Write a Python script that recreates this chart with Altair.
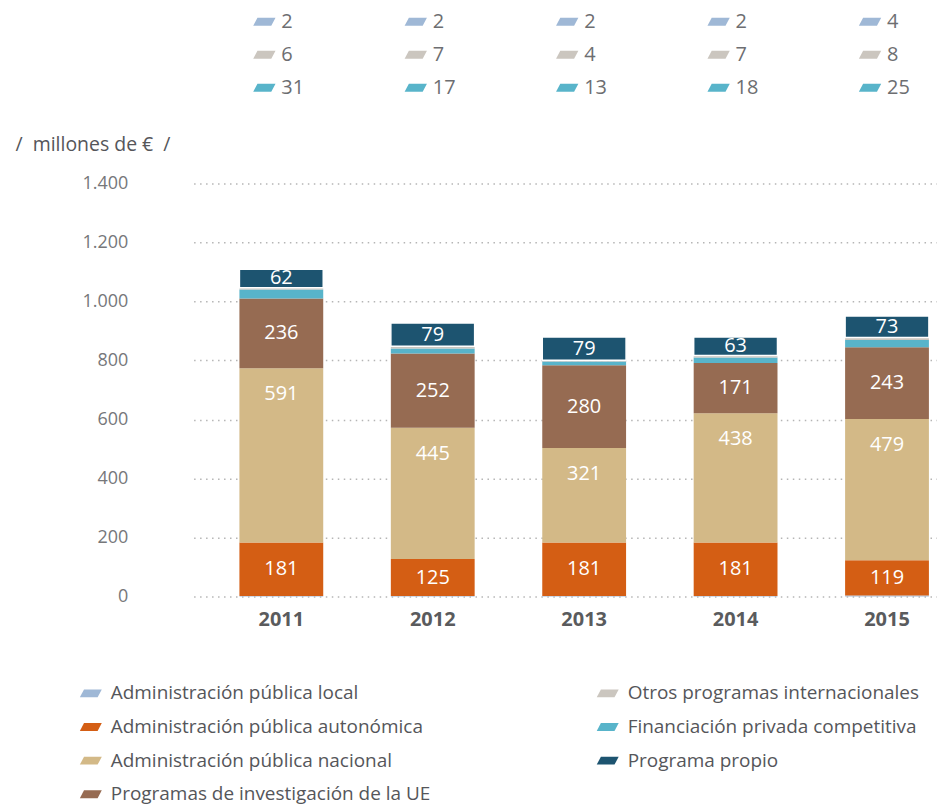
import altair as alt
import pandas as pd

years = ["2011", "2012", "2013", "2014", "2015"]
series = [
    "Administración pública local",
    "Administración pública autonómica",
    "Administración pública nacional",
    "Programas de investigación de la UE",
    "Financiación privada competitiva",
    "Otros programas internacionales",
    "Programa propio",
]
local = [2, 2, 2, 2, 4]
autonomica = [181, 125, 181, 181, 119]
nacional = [591, 445, 321, 438, 479]
ue = [236, 252, 280, 171, 243]
privada = [31, 17, 13, 18, 25]
otros = [6, 7, 4, 7, 8]
propio = [62, 79, 79, 63, 73]
colors = ["#9fb8d6", "#d45e14", "#d3b987", "#966b52", "#58b4ca", "#cbc6bf", "#1d5470"]
y_ticks = [0, 200, 400, 600, 800, 1000, 1200, 1400]

values = [local, autonomica, nacional, ue, privada, otros, propio]
rows = []
for i, yr in enumerate(years):
    base = 0
    for k, name in enumerate(series):
        v = values[k][i]
        rows.append(dict(year=yr, serie=name, value=v, order=k,
                         y0=base, y1=base + v, mid=base + v / 2))
        base += v
df = pd.DataFrame(rows)

# legend order (column-major in two columns of four rows)
legend_idx = [0, 1, 2, 3, 5, 4, 6]
dom = [series[i] for i in legend_idx]
rng = [colors[i] for i in legend_idx]

FONT = "Open Sans"
PATH = "M -1 0.36 L -0.62 -0.36 L 1 -0.36 L 0.62 0.36 Z"

color_scale = alt.Scale(domain=dom, range=rng)
legend = alt.Legend(
    orient="none", legendX=-114, legendY=500, columns=2, columnPadding=166,
    rowPadding=12.7, symbolType=PATH, symbolSize=484, symbolStrokeWidth=0,
    symbolOpacity=1, labelFont=FONT, labelFontSize=19, labelColor="#55565a",
    labelOffset=9, title=None, padding=0, labelLimit=0,
)

xenc = alt.X(
    "year:N", sort=years,
    scale=alt.Scale(paddingInner=0.4465, paddingOuter=0.178, align=0.85),
    axis=alt.Axis(title=None, labelAngle=0, labelFont=FONT, labelFontWeight="bold",
                  labelFontSize=20, labelColor="#5a5b5d", labelPadding=13,
                  domain=False, ticks=False, grid=False),
)
yscale = alt.Scale(domain=[0, 1400], nice=False)

base = alt.Chart(df)

NB = "\u00a0"
bars = base.mark_bar().encode(
    x=xenc,
    y=alt.Y("y0:Q", scale=yscale, axis=alt.Axis(
        values=y_ticks, labelExpr="replace(format(datum.value, ','), ',', '.')",
        labelFont=FONT, labelFontSize=18, labelColor="#76777a", labelPadding=66,
        domain=False, ticks=False, grid=True, gridDash=[1.5, 4.5],
        gridColor="#b5b5b5", gridWidth=1.5,
        title="/" + NB + NB + "millones de €" + NB + NB + "/", titleAngle=0,
        titleX=-179, titleY=-33,
        titleAlign="left", titleBaseline="alphabetic", titleFont=FONT,
        titleFontSize=19.5, titleFontWeight="normal", titleColor="#55565a")),
    y2="y1:Q",
    color=alt.Color("serie:N", scale=color_scale, legend=legend),
    stroke=alt.condition("datum.serie == 'Programa propio'", alt.value("white"), alt.value("transparent")),
    strokeWidth=alt.value(1.5),
)

center_labels = base.transform_filter(
    alt.FieldOneOfPredicate(field="serie", oneOf=[series[1], series[3], series[6]])
).mark_text(font=FONT, fontSize=20, color="white", baseline="middle").encode(
    x=alt.X("year:N", sort=years), y="mid:Q", text="value:Q")

nac_labels = base.transform_filter(
    alt.FieldEqualPredicate(field="serie", equal=series[2])
).mark_text(font=FONT, fontSize=20, color="white", baseline="middle", dy=26).encode(
    x=alt.X("year:N", sort=years), y="y1:Q", text="value:Q")

layers = [bars, center_labels, nac_labels]
for sname, ypx in [(series[0], -162), (series[5], -129), (series[4], -96)]:
    sub = base.transform_filter(alt.FieldEqualPredicate(field="serie", equal=sname))
    layers.append(sub.mark_text(font=FONT, fontSize=20, color="#6d6e71", align="left",
                                baseline="middle", dx=0).encode(
        x=alt.X("year:N", sort=years), y=alt.value(ypx), text="value:Q"))
    layers.append(sub.mark_point(shape=PATH, filled=True, size=500, opacity=1,
                                 strokeWidth=0, xOffset=-17).encode(
        x=alt.X("year:N", sort=years), y=alt.value(ypx),
        color=alt.Color("serie:N", scale=color_scale, legend=legend)))

chart = alt.layer(*layers).properties(
    width=745, height=414, autosize="none",
    padding={"left": 186, "top": 175, "right": 0, "bottom": 212},
).configure_view(stroke=None)

chart.save("out.html", embed_options={"renderer": "svg", "actions": False})
